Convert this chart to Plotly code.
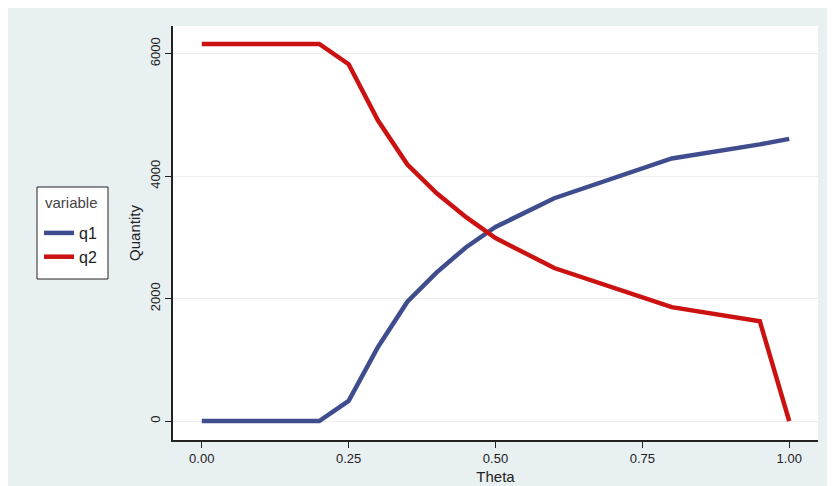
import plotly.graph_objects as go

theta = [0.0, 0.05, 0.10, 0.15, 0.20, 0.25, 0.30, 0.35, 0.40, 0.45, 0.50, 0.60, 0.80, 0.95, 1.00]
q1 = [0, 0, 0, 0, 0, 330, 1210, 1950, 2430, 2840, 3170, 3640, 4290, 4520, 4610]
q2 = [6160, 6160, 6160, 6160, 6160, 5830, 4910, 4190, 3720, 3330, 2990, 2500, 1860, 1630, 0]

series = [("q1", q1, "#3f4d8e"), ("q2", q2, "#cc1111")]
legend_title = "variable"
x_ticks = [0.0, 0.25, 0.5, 0.75, 1.0]
x_tick_labels = ["0.00", "0.25", "0.50", "0.75", "1.00"]
y_ticks = [0, 2000, 4000, 6000]

fig = go.Figure()
for name, vals, col in series:
    fig.add_trace(go.Scatter(x=theta, y=vals, mode="lines", name=name, legendgroup=name,
                             line=dict(color=col, width=4.5)))

W, H = 835, 486
L, R, T, B = 165, 25, 18, 54
pw, ph = W - L - R, H - T - B

def px(x):
    return (x - L) / pw

def py(y):
    return (H - B - y) / ph

bg = "#e8f0f2"
fig.update_layout(
    width=W, height=H,
    margin=dict(l=L, r=R, t=T, b=B, autoexpand=False),
    paper_bgcolor=bg, plot_bgcolor="white",
    font=dict(family="Liberation Sans, Arial, sans-serif", color="#222222", size=13),
    shapes=[dict(type="rect", xref="paper", yref="paper",
                 x0=px(29), x1=px(100), y0=py(271), y1=py(179),
                 fillcolor="white", line=dict(color="#222222", width=1), layer="below")],
    annotations=[dict(text=legend_title, xref="paper", yref="paper",
                      x=px(63.5), y=py(194), xanchor="center", yanchor="middle",
                      showarrow=False, font=dict(size=15, color="#444444"))],
    legend=dict(
        x=px(31), y=py(208), xanchor="left", yanchor="top",
        bgcolor="rgba(0,0,0,0)", borderwidth=0,
        font=dict(size=16, color="#222222"),
        tracegroupgap=0,
    ),
    xaxis=dict(
        range=[-0.049, 1.049], tickvals=x_ticks, ticktext=x_tick_labels,
        showgrid=False, zeroline=False, automargin=False,
        showline=True, linecolor="#222222", linewidth=1.5,
        ticks="outside", ticklen=6, tickcolor="#222222",
        ticklabelstandoff=0,
        tickfont=dict(size=13, color="#222222"),
        title=dict(text="Theta", font=dict(size=15, color="#222222"), standoff=6),
    ),
    yaxis=dict(
        range=[-310, 6454], tickvals=y_ticks,
        showgrid=True, gridcolor="#eeeeee", gridwidth=1, zeroline=False, automargin=False,
        showline=True, linecolor="#222222", linewidth=1.5,
        ticks="outside", ticklen=6, tickcolor="#222222",
        tickangle=-90,
        tickfont=dict(size=13, color="#222222"),
        title=dict(text="Quantity", font=dict(size=15, color="#222222"), standoff=4),
    ),
)

fig.write_html("out.html")
